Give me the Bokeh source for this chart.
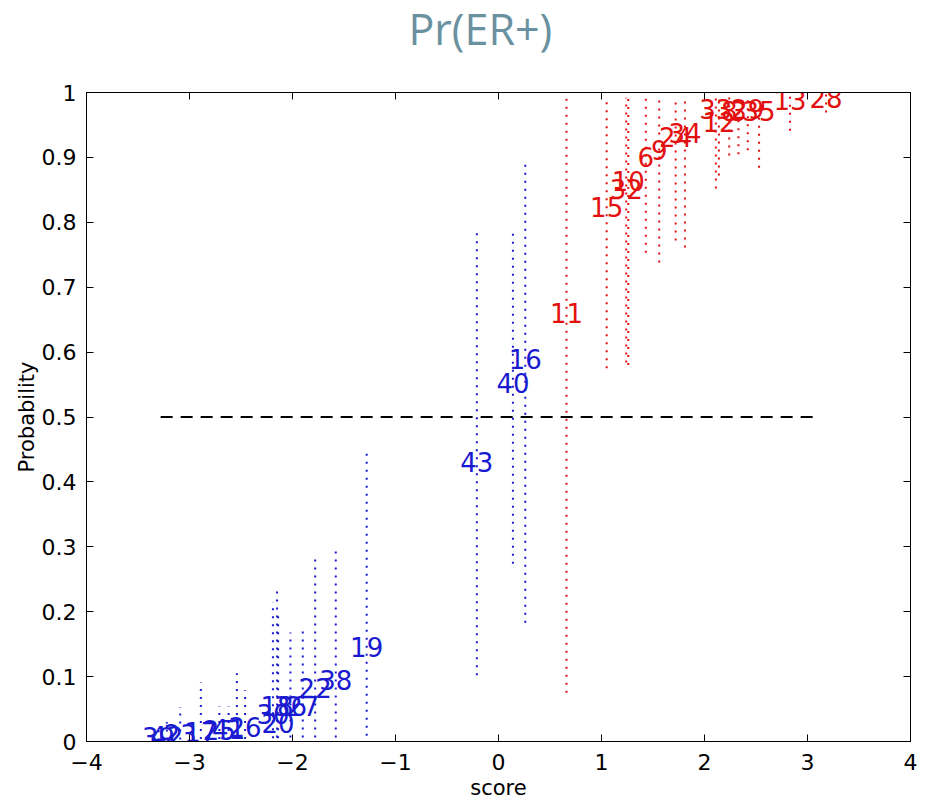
from bokeh.plotting import figure
from bokeh.layouts import column
from bokeh.models import ColumnDataSource, LinearAxis, FixedTicker, Range1d
from bokeh.embed import file_html
from bokeh.resources import INLINE
from bokeh.core.properties import value

# ER+ (red) cases: id, score, mean probability, lower, upper
red_ids = ["11", "15", "10", "32", "6", "9", "24", "34", "33", "12", "8", "3", "29", "35", "13", "28"]
red_score = [0.66, 1.05, 1.26, 1.24, 1.43, 1.56, 1.72, 1.81, 2.11, 2.14, 2.24, 2.33, 2.42, 2.53, 2.83, 3.18]
red_mean = [0.661, 0.823, 0.863, 0.852, 0.901, 0.911, 0.931, 0.938, 0.975, 0.955, 0.972, 0.972, 0.975, 0.972, 0.988, 0.992]
red_lo = [0.075, 0.575, 0.580, 0.584, 0.753, 0.738, 0.772, 0.761, 0.852, 0.872, 0.903, 0.905, 0.911, 0.884, 0.941, 0.969]
red_hi = [1.000, 0.988, 0.994, 0.992, 0.992, 0.995, 0.992, 0.992, 0.994, 0.992, 0.994, 0.975, 0.988, 0.980, 0.995, 0.998]

# ER- (blue) cases
blue_ids = ["43", "40", "16", "19", "38", "22", "27", "36", "18", "30", "20", "26", "", "41", "25", "17", "23", "42", "39"]
blue_score = [-0.21, 0.14, 0.26, -1.28, -1.58, -1.78, -1.90, -2.02, -2.15, -2.19, -2.14, -2.46, -2.54, -2.62, -2.71, -2.89, -3.09, -3.22, -3.30]
blue_mean = [0.430, 0.552, 0.590, 0.145, 0.094, 0.082, 0.054, 0.054, 0.054, 0.042, 0.029, 0.023, 0.012, 0.020, 0.017, 0.015, 0.012, 0.009, 0.007]
blue_lo = [0.102, 0.274, 0.183, 0.009, 0.006, 0.006, 0.006, 0.006, 0.006, 0.005, 0.005, 0.004, 0.004, 0.004, 0.004, 0.004, 0.003, 0.003, 0.002]
blue_hi = [0.784, 0.790, 0.895, 0.445, 0.302, 0.287, 0.171, 0.168, 0.233, 0.215, 0.200, 0.079, 0.105, 0.054, 0.054, 0.091, 0.053, 0.030, 0.025]

x_ticks = [-4, -3, -2, -1, 0, 1, 2, 3, 4]
y_ticks = [0, 0.1, 0.2, 0.3, 0.4, 0.5, 0.6, 0.7, 0.8, 0.9, 1]
y_tick_labels = ["0", "0.1", "0.2", "0.3", "0.4", "0.5", "0.6", "0.7", "0.8", "0.9", "1"]
threshold = 0.5
threshold_span = [-3.28, 3.1]
title_text = "Pr(ER+)"

RED = "#e31010"
BLUE = "#1a1ad0"
FONT = "DejaVu Sans"
TITLE_H = 72

# --- title strip (its own small figure, so the text is not clipped) ---
tfig = figure(width=929, height=TITLE_H, output_backend="svg", toolbar_location=None,
              x_range=Range1d(0, 929), y_range=Range1d(0, TITLE_H),
              x_axis_type=None, y_axis_type=None, min_border=0)
tfig.xgrid.visible = False
tfig.ygrid.visible = False
tfig.outline_line_color = None
tfig.text(x=[444], y=[TITLE_H - 28], text=[title_text], text_align="center", text_baseline="middle",
          text_font=value("Open Sans"), text_font_size="43px", text_color="#6a91a0")

# --- main chart ---
p = figure(width=929, height=804 - TITLE_H, output_backend="svg", toolbar_location=None,
           x_range=Range1d(-4, 4), y_range=Range1d(0, 1),
           min_border_left=86, min_border_right=19, min_border_top=92 - TITLE_H, min_border_bottom=63)

p.xgrid.visible = False
p.ygrid.visible = False
p.outline_line_color = "black"
p.outline_line_width = 1

red = ColumnDataSource(dict(ids=red_ids, x=red_score, m=red_mean, lo=red_lo, hi=red_hi))
blue = ColumnDataSource(dict(ids=blue_ids, x=blue_score, m=blue_mean, lo=blue_lo, hi=blue_hi))

for src, col in ((red, RED), (blue, BLUE)):
    p.segment(x0="x", y0="lo", x1="x", y1="hi", source=src, line_color=col,
              line_width=2, line_dash="2 6")

p.line(x=threshold_span, y=[threshold, threshold], line_color="black", line_width=2, line_dash="12 8")

for src, col in ((red, RED), (blue, BLUE)):
    p.text(x="x", y="m", text="ids", source=src, text_color=col, text_align="center",
           text_baseline="middle", text_font=value(FONT), text_font_size="26px")

xt = FixedTicker(ticks=x_ticks)
yt = FixedTicker(ticks=y_ticks)

def style(ax, size="22px"):
    ax.major_tick_in = 7
    ax.major_tick_out = 0
    ax.minor_tick_line_color = None
    ax.axis_line_color = "black"
    ax.major_tick_line_color = "black"
    ax.major_label_text_font = FONT
    ax.major_label_text_font_size = size
    ax.major_label_text_color = "black"
    ax.axis_label_text_font = FONT
    ax.axis_label_text_font_size = "21px"
    ax.axis_label_text_font_style = "normal"
    ax.axis_label_text_color = "black"

xa = p.xaxis[0]
xa.ticker = xt
xa.axis_label = "score"
xa.major_label_overrides = {t: (("\u2212" + str(-t)) if t < 0 else str(t)) for t in x_ticks}
style(xa)
xa.major_label_standoff = 12
xa.axis_label_standoff = 3

ya = p.yaxis[0]
ya.ticker = yt
ya.axis_label = "Probability"
ya.major_label_overrides = {t: l for t, l in zip(y_ticks, y_tick_labels)}
style(ya)
ya.major_label_standoff = 10
ya.axis_label_standoff = 0

top = LinearAxis(ticker=xt)
style(top, "1px")
top.major_label_overrides = {t: "" for t in x_ticks}
top.major_label_standoff = 0
p.add_layout(top, "above")

right = LinearAxis(ticker=yt)
style(right, "1px")
right.major_label_overrides = {t: "" for t in y_ticks}
right.major_label_standoff = 0
p.add_layout(right, "right")

layout = column(tfig, p, spacing=0)
open("out.html", "w").write(file_html(layout, INLINE))
